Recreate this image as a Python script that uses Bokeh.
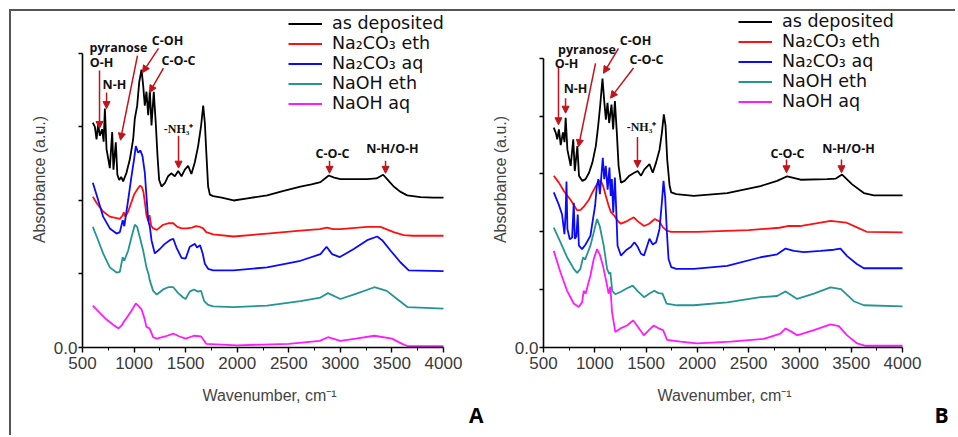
from bokeh.plotting import figure
from bokeh.models import (Legend, LegendItem, Label, Arrow, NormalHead, FixedTicker, Range1d, Title)
from bokeh.layouts import row
from bokeh.embed import file_html
from bokeh.resources import INLINE

# ---------------- data : panel A ----------------
a_black_x = [600, 620, 636, 652, 668, 690, 705, 717, 733, 765, 788, 800, 823, 838, 856, 875, 894, 927, 959,
             991, 1007, 1030, 1050, 1072, 1088, 1104, 1120, 1137, 1153, 1169, 1191, 1210, 1227, 1243, 1266,
             1300, 1330, 1360, 1395, 1428, 1460, 1492, 1524, 1556, 1589, 1621, 1650, 1670, 1686, 1702, 1718,
             1735, 1767, 1850, 1964, 2100, 2290, 2450, 2613, 2720, 2807, 2860, 2888, 2940, 3001, 3130, 3260,
             3350, 3415, 3460, 3517, 3580, 3648, 3777, 3900, 4000]
a_black_y = [3.06, 3.00, 2.83, 3.04, 2.88, 2.97, 2.80, 3.25, 2.70, 2.44, 2.93, 2.42, 2.79, 2.35, 2.28, 2.32, 2.26,
             2.38, 2.56, 2.83, 3.11, 3.29, 3.61, 3.78, 3.57, 3.29, 3.48, 3.16, 3.50, 3.02, 3.48, 3.06, 2.61, 2.28,
             2.19, 2.24, 2.33, 2.37, 2.33, 2.40, 2.33, 2.42, 2.47, 2.36, 2.52, 2.74, 3.02, 3.29, 3.06, 2.61, 2.19,
             2.08, 2.06, 2.04, 2.00, 2.03, 2.07, 2.13, 2.19, 2.22, 2.25, 2.31, 2.34, 2.31, 2.29, 2.29, 2.29, 2.30,
             2.35, 2.28, 2.19, 2.12, 2.07, 2.045, 2.04, 2.04]

a_red_x = [600, 640, 700, 765, 830, 862, 890, 900, 915, 943, 975, 1000, 1030, 1056, 1072, 1090, 1104, 1120, 1137,
           1150, 1165, 1185, 1220, 1282, 1330, 1380, 1420, 1460, 1508, 1560, 1600, 1640, 1670, 1700, 1767, 1964,
           2290, 2613, 2800, 2870, 2930, 3001, 3260, 3389, 3517, 3614, 3700, 4000]
a_red_y = [2.05, 1.96, 1.85, 1.78, 1.76, 1.75, 1.80, 1.84, 1.78, 1.85, 1.98, 2.08, 2.15, 2.20, 2.19, 2.12, 1.98,
           1.80, 1.72, 1.80, 1.66, 1.62, 1.60, 1.67, 1.69, 1.69, 1.64, 1.62, 1.62, 1.63, 1.65, 1.64, 1.62, 1.57,
           1.54, 1.51, 1.55, 1.59, 1.61, 1.63, 1.61, 1.61, 1.64, 1.64, 1.57, 1.53, 1.52, 1.52]

a_blue_x = [600, 640, 700, 765, 830, 862, 890, 905, 943, 975, 1000, 1017, 1040, 1062, 1082, 1104, 1120, 1137,
            1153, 1169, 1201, 1250, 1298, 1347, 1380, 1411, 1460, 1500, 1540, 1590, 1610, 1640, 1665, 1686, 1718,
            1767, 1964, 2290, 2613, 2807, 2866, 2920, 2995, 3130, 3260, 3357, 3405, 3486, 3582, 3663, 4000]
a_blue_y = [2.24, 2.06, 1.78, 1.62, 1.55, 1.57, 1.73, 1.65, 2.01, 2.33, 2.56, 2.74, 2.65, 2.68, 2.60, 2.38, 2.06,
            1.73, 1.64, 1.46, 1.28, 1.34, 1.41, 1.46, 1.48, 1.36, 1.22, 1.21, 1.37, 1.41, 1.36, 1.39, 1.28, 1.14,
            1.07, 1.05, 1.05, 1.09, 1.18, 1.27, 1.37, 1.27, 1.23, 1.34, 1.46, 1.51, 1.46, 1.32, 1.16, 1.05, 1.04]

a_teal_x = [600, 640, 700, 765, 830, 862, 890, 905, 943, 975, 1007, 1030, 1056, 1088, 1120, 1140, 1153, 1185,
            1220, 1282, 1330, 1380, 1428, 1476, 1500, 1540, 1580, 1620, 1650, 1680, 1718, 1767, 1964, 2290, 2613,
            2807, 2880, 3000, 3150, 3330, 3450, 3550, 3650, 4000]
a_teal_y = [1.64, 1.50, 1.28, 1.09, 1.02, 1.03, 1.23, 1.18, 1.32, 1.50, 1.67, 1.64, 1.50, 1.32, 1.09, 1.00, 0.91,
            0.77, 0.72, 0.79, 0.82, 0.82, 0.74, 0.68, 0.66, 0.76, 0.79, 0.76, 0.77, 0.63, 0.58, 0.56, 0.55, 0.57,
            0.63, 0.68, 0.74, 0.66, 0.73, 0.82, 0.77, 0.66, 0.55, 0.53]

a_mag_x = [600, 668, 733, 797, 850, 880, 900, 927, 975, 1017, 1040, 1072, 1100, 1120, 1150, 1185, 1220, 1300,
           1380, 1440, 1500, 1580, 1650, 1700, 2000, 2500, 2800, 2880, 3000, 3150, 3330, 3500, 3600, 3650, 4000]
a_mag_y = [0.57, 0.47, 0.38, 0.31, 0.26, 0.30, 0.35, 0.40, 0.50, 0.60, 0.57, 0.52, 0.40, 0.28, 0.26, 0.14, 0.12,
           0.15, 0.19, 0.15, 0.12, 0.16, 0.15, 0.05, 0.03, 0.05, 0.09, 0.14, 0.09, 0.12, 0.16, 0.12, 0.05, 0.02,
           0.02]

# ---------------- data : panel B ----------------
b_black_x = [600, 620, 634, 650, 668, 690, 705, 716, 733, 765, 790, 805, 830, 846, 879, 910, 944, 977, 1010, 1033,
             1052, 1075, 1091, 1108, 1124, 1140, 1163, 1179, 1196, 1215, 1232, 1255, 1290, 1337, 1385, 1418, 1451,
             1484, 1533, 1565, 1598, 1631, 1654, 1673, 1690, 1706, 1729, 1745, 1794, 1965, 2291, 2616, 2778, 2876,
             3006, 3265, 3350, 3411, 3509, 3623, 3720, 4000]
b_black_y = [3.80, 3.71, 3.60, 3.77, 3.50, 3.72, 3.55, 3.97, 3.42, 3.14, 3.60, 3.05, 3.48, 2.97, 2.88, 2.91, 3.02,
             3.20, 3.48, 3.83, 4.17, 4.65, 4.28, 3.94, 4.23, 3.88, 4.20, 3.77, 4.26, 3.71, 3.14, 2.85, 2.88, 2.97,
             3.02, 3.05, 2.97, 3.08, 3.17, 3.02, 3.20, 3.42, 3.71, 4.03, 3.83, 3.25, 2.80, 2.68, 2.65, 2.62, 2.67,
             2.79, 2.88, 2.96, 2.90, 2.91, 2.92, 2.99, 2.82, 2.67, 2.63, 2.63]

b_red_x = [600, 650, 700, 765, 828, 862, 900, 944, 977, 1010, 1040, 1059, 1080, 1108, 1135, 1157, 1190, 1222, 1255,
           1320, 1380, 1420, 1480, 1530, 1585, 1630, 1663, 1700, 1745, 2000, 2500, 2800, 2880, 3000, 3300, 3450,
           3550, 3650, 4000]
b_red_y = [2.97, 2.85, 2.70, 2.55, 2.37, 2.38, 2.45, 2.56, 2.68, 2.79, 2.87, 2.88, 2.80, 2.62, 2.45, 2.34, 2.28,
           2.19, 2.14, 2.19, 2.25, 2.18, 2.10, 2.14, 2.22, 2.18, 2.08, 2.02, 2.00, 2.00, 2.03, 2.07, 2.10, 2.10,
           2.19, 2.16, 2.08, 2.00, 1.99]

b_blue_x = [600, 649, 681, 704, 715, 724, 733, 756, 779, 795, 805, 820, 834, 845, 876, 910, 957, 985, 1003, 1020,
            1035, 1050, 1078, 1092, 1107, 1125, 1143, 1155, 1166, 1180, 1196, 1210, 1222, 1255, 1304, 1353, 1386,
            1418, 1451, 1480, 1533, 1565, 1598, 1631, 1654, 1670, 1686, 1703, 1719, 1745, 1794, 1965, 2291, 2616,
            2778, 2860, 2941, 3039, 3200, 3330, 3395, 3460, 3558, 3623, 4000]
b_blue_y = [2.68, 2.47, 2.30, 1.96, 2.30, 2.87, 2.05, 1.87, 1.90, 2.50, 1.88, 1.92, 2.30, 1.76, 1.70, 1.78, 1.93,
            2.25, 2.45, 2.79, 2.91, 2.65, 3.28, 2.91, 3.14, 2.73, 3.11, 2.62, 2.91, 2.33, 2.94, 2.33, 1.76, 1.59,
            1.68, 1.74, 1.82, 1.74, 1.62, 1.59, 1.88, 1.78, 1.82, 2.05, 2.51, 2.88, 2.60, 1.99, 1.53, 1.39, 1.36,
            1.36, 1.41, 1.56, 1.61, 1.71, 1.67, 1.65, 1.67, 1.69, 1.71, 1.58, 1.44, 1.37, 1.37]

b_teal_x = [600, 665, 730, 795, 828, 860, 886, 905, 957, 990, 1022, 1048, 1087, 1120, 1140, 1152, 1170, 1200, 1250,
            1310, 1370, 1420, 1480, 1530, 1580, 1620, 1660, 1700, 1800, 1965, 2291, 2616, 2778, 2860, 2973, 3136,
            3298, 3400, 3525, 3623, 4000]
b_teal_y = [2.07, 1.82, 1.56, 1.36, 1.29, 1.36, 1.56, 1.52, 1.76, 1.99, 2.22, 2.10, 1.76, 1.36, 1.27, 1.30, 0.98,
            0.92, 0.96, 1.02, 1.07, 0.97, 0.87, 0.93, 0.98, 0.94, 0.93, 0.76, 0.73, 0.73, 0.78, 0.87, 0.89, 0.97,
            0.84, 0.93, 1.04, 1.01, 0.80, 0.73, 0.71]

b_mag_x = [600, 665, 730, 795, 843, 876, 892, 910, 957, 990, 1022, 1048, 1080, 1113, 1135, 1152, 1168, 1200, 1250,
           1315, 1373, 1420, 1478, 1527, 1575, 1624, 1666, 1705, 1835, 1998, 2323, 2648, 2810, 2860, 2920, 2973,
           3136, 3298, 3379, 3460, 3558, 3640, 4000]
b_mag_y = [1.67, 1.30, 0.98, 0.76, 0.70, 0.78, 0.98, 0.93, 1.24, 1.53, 1.70, 1.61, 1.41, 1.13, 0.93, 1.05, 0.61,
           0.27, 0.33, 0.38, 0.47, 0.36, 0.21, 0.30, 0.38, 0.33, 0.30, 0.13, 0.10, 0.07, 0.10, 0.15, 0.24, 0.33,
           0.27, 0.21, 0.30, 0.40, 0.37, 0.21, 0.07, 0.03, 0.03]

series_names = ["as deposited", "Na\u2082CO\u2083 eth", "Na\u2082CO\u2083 aq", "NaOH eth", "NaOH aq"]
series_colors = ["#000000", "#ff1010", "#0a0aff", "#259494", "#ff1aff"]
x_major = [500, 1000, 1500, 2000, 2500, 3000, 3500, 4000]
x_minor = [750, 1250, 1750, 2250, 2750, 3250, 3750]

RED = "#c4121a"
NARROW = "'Liberation Sans Narrow', 'Liberation Sans', Arial, sans-serif"
BOLDF = "'Open Sans', 'Liberation Sans', sans-serif"
FIG_H = 424


def make_panel(width, bl, br, bb, x_end, y_top, ymax, xs, ys, legend_loc, annots, arrows, tag, tag_off):
    p = figure(width=width, height=FIG_H, min_border_left=bl, min_border_right=br, min_border_top=0,
               min_border_bottom=bb, x_range=Range1d(500, x_end), y_range=Range1d(0, y_top),
               output_backend="svg", toolbar_location=None)
    p.outline_line_color = None
    p.grid.visible = False

    items = []
    for name, col, x, y in zip(series_names, series_colors, xs, ys):
        r = p.line(x, y, line_color=col, line_width=1.8)
        items.append(LegendItem(label=name, renderers=[r]))

    leg = Legend(items=items, location=legend_loc, padding=0, margin=0, spacing=0, glyph_width=34,
                 glyph_height=19, label_height=19, label_standoff=10, label_text_font="DejaVu Sans",
                 label_text_font_size="17.5px", label_text_color="#111111", border_line_color=None,
                 background_fill_alpha=0)
    p.add_layout(leg)

    xa = p.xaxis[0]
    xa.ticker = FixedTicker(ticks=x_major, minor_ticks=x_minor)
    xa.bounds = (500, 4000)
    xa.axis_line_width = 1.6
    xa.major_tick_out = 5
    xa.major_tick_in = 0
    xa.minor_tick_out = 3
    xa.minor_tick_in = 0
    xa.major_tick_line_width = 1.4
    xa.major_label_standoff = 4
    xa.major_label_text_font = NARROW
    xa.major_label_text_font_size = "17px"
    xa.major_label_text_color = "#3a3a3a"
    xa.axis_label = "Wavenumber, cm\u207b\u00b9"
    xa.axis_label_text_font = NARROW
    xa.axis_label_text_font_size = "16px"
    xa.axis_label_text_font_style = "normal"
    xa.axis_label_text_color = "#444444"
    xa.axis_label_standoff = 15

    ya = p.yaxis[0]
    ticks = list(range(0, ymax + 1))
    ya.ticker = FixedTicker(ticks=ticks, minor_ticks=[])
    ya.bounds = (0, ymax)
    ya.major_label_overrides = {t: ("0.0" if t == 0 else "") for t in ticks}
    ya.axis_line_width = 1.6
    ya.major_tick_out = 4
    ya.major_tick_in = 0
    ya.major_tick_line_width = 1.4
    ya.major_label_standoff = 1
    ya.major_label_text_font = NARROW
    ya.major_label_text_font_size = "17px"
    ya.major_label_text_color = "#3a3a3a"
    ya.axis_label = "Absorbance (a.u.)"
    ya.axis_label_text_font = "'Liberation Sans', Arial"
    ya.axis_label_text_font_size = "16px"
    ya.axis_label_text_font_style = "normal"
    ya.axis_label_text_color = "#444444"
    ya.axis_label_standoff = 3

    for txt, x, y, serif in annots:
        p.add_layout(Label(x=x, y=y, text=txt, text_align="center", text_baseline="middle",
                           text_font=("'Liberation Serif', serif" if serif else BOLDF),
                           text_font_size=("12px" if serif else "12.5px"), text_font_style="bold",
                           text_color="#111111"))
    for x0, y0, x1, y1 in arrows:
        p.add_layout(Arrow(end=NormalHead(size=7, fill_color=RED, line_color=RED, line_width=1),
                           x_start=x0, y_start=y0, x_end=x1, y_end=y1, line_color=RED, line_width=1.5))

    p.add_layout(Title(text=tag, align="right", offset=tag_off, text_font="'Open Sans', 'Liberation Sans'",
                       text_font_size="21px", text_font_style="bold", text_color="#000000", standoff=-16),
                 "below")
    return p


annots_a = [("pyranose", 849, 4.08, False), ("O-H", 684, 3.88, False), ("N-H", 810, 3.58, False),
            ("C-OH", 1324, 4.18, False), ("C-O-C", 1431, 3.90, False), ("-NH\u2083\u207a", 1431, 2.97, True),
            ("C-O-C", 2924, 2.64, False), ("N-H/O-H", 3505, 2.71, False)]
arrows_a = [(665, 3.77, 665, 2.98), (733, 3.47, 733, 3.25), (1033, 3.97, 868, 2.82), (1237, 4.07, 1082, 3.74),
            (1285, 3.80, 1150, 3.47), (1431, 2.88, 1431, 2.44), (2895, 2.54, 2895, 2.37),
            (3438, 2.54, 3438, 2.37)]

annots_b = [("pyranose", 924, 5.15, False), ("O-H", 724, 4.91, False), ("N-H", 812, 4.47, False),
            ("C-OH", 1397, 5.31, False), ("C-O-C", 1504, 4.97, False), ("-NH\u2083\u207a", 1455, 3.81, True),
            ("C-O-C", 2879, 3.35, False), ("N-H/O-H", 3474, 3.44, False)]
arrows_b = [(646, 4.83, 646, 3.85), (715, 4.31, 715, 4.05), (1007, 4.91, 841, 3.47), (1231, 5.17, 1085, 4.74),
            (1377, 4.83, 1153, 4.31), (1416, 3.64, 1416, 3.11), (2869, 3.25, 2869, 3.02),
            (3405, 3.25, 3405, 3.02)]

# page origin of figures: (11, 11).  Panel A frame x 82..456, y 11..347
pA = make_panel(474, 71, 29, 88, 4126, 4.571, 4,
                [a_black_x, a_red_x, a_blue_x, a_teal_x, a_mag_x],
                [a_black_y, a_red_y, a_blue_y, a_teal_y, a_mag_y],
                (206, 234), annots_a, arrows_a, "A", -27)
# Panel B frame x 543..905, y 11..349
pB = make_panel(470, 58, 50, 86, 4029, 5.808, 5,
                [b_black_x, b_red_x, b_blue_x, b_teal_x, b_mag_x],
                [b_black_y, b_red_y, b_blue_y, b_teal_y, b_mag_y],
                (195, 236), annots_b, arrows_b, "B", -43)

layout = row(pA, pB, styles={"border-top": "2px solid #555555", "border-left": "2px solid #555555",
                             "margin-left": "9px", "margin-top": "9px"})
open("out.html", "w").write(file_html(layout, INLINE))
